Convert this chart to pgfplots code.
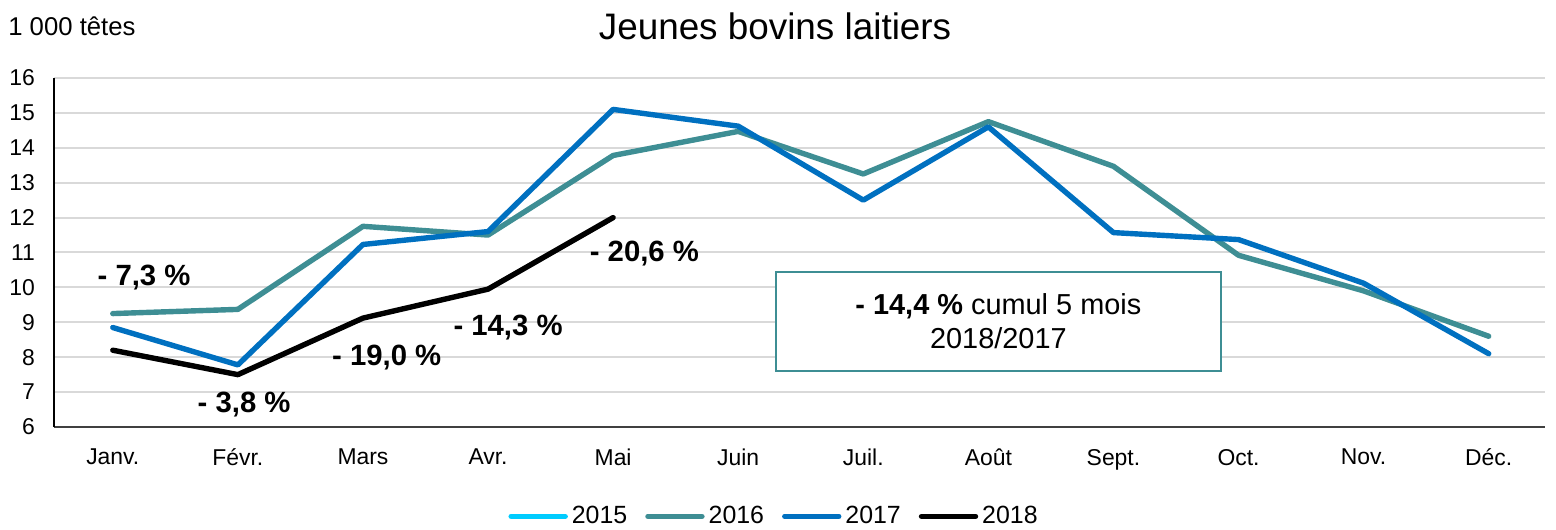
\documentclass[border=0pt]{standalone}
\usepackage{fontspec}
\setmainfont{Liberation Sans}
\usepackage{pgfplots}
\pgfplotsset{compat=1.18}
\usetikzlibrary{calc}
\definecolor{c15}{RGB}{0,204,255}
\definecolor{c16}{RGB}{62,142,148}
\definecolor{c17}{RGB}{0,112,192}
\definecolor{gridc}{RGB}{217,217,217}
\begin{document}
\begin{tikzpicture}
\begin{axis}[
 scale only axis, width=745.5bp, height=174.5bp,
 xmin=-0.47, xmax=11.45, ymin=6, ymax=16,
 xtick={0,...,11},
 xticklabels={Janv.,Févr.,Mars,Avr.,Mai,Juin,Juil.,Août,Sept.,Oct.,Nov.,Déc.},
 ytick={6,...,16},
 ymajorgrids, grid style={gridc, line width=1bp},
 axis x line*=bottom, axis y line*=left,
 x axis line style={draw=black!75, line width=1bp, -},
 y axis line style={draw=black, line width=0.8bp, -},
 major tick length=0pt,
 tick label style={font=\fontsize{11.5}{13}\selectfont},
 /pgf/number format/assume math mode=true,
 xticklabel style={yshift=-7.5bp},
 yticklabel style={xshift=-6bp},
 legend style={at={(0.4836,-0.256)}, anchor=center, draw=none, legend columns=4,
   font=\fontsize{12.5}{14}\selectfont, inner sep=1bp,
   /tikz/every even column/.append style={column sep=7bp}},
 legend image code/.code={\draw[#1, line width=2.7bp, line cap=round] (0bp,0bp) -- (27bp,0bp);},
 clip=false,
]
\coordinate (bl) at (rel axis cs:0,0);
\coordinate (tr) at (rel axis cs:1,1);
\addlegendimage{c15}
\addlegendentry{2015}
\addplot[c16, line width=2.7bp, line join=round, line cap=round] coordinates {
(0,9.25) (1,9.37) (2,11.75) (3,11.5) (4,13.78) (5,14.47) (6,13.25) (7,14.75) (8,13.47) (9,10.92) (10,9.9) (11,8.6)};
\addlegendentry{2016}
\addplot[c17, line width=2.7bp, line join=round, line cap=round] coordinates {
(0,8.85) (1,7.78) (2,11.23) (3,11.6) (4,15.1) (5,14.62) (6,12.5) (7,14.6) (8,11.57) (9,11.37) (10,10.12) (11,8.1)};
\addlegendentry{2017}
\addplot[black, line width=2.7bp, line join=round, line cap=round] coordinates {
(0,8.2) (1,7.5) (2,9.12) (3,9.95) (4,12.0)};
\addlegendentry{2018}
\begin{scope}[every node/.style={font=\bfseries\fontsize{14.7}{17}\selectfont}]
\node at (axis cs:0.25,10.28) {- 7,3 \%};
\node at (axis cs:1.05,6.65) {- 3,8 \%};
\node at (axis cs:2.19,7.98) {- 19,0 \%};
\node at (axis cs:3.16,8.86) {- 14,3 \%};
\node at (axis cs:4.25,10.97) {- 20,6 \%};
\end{scope}
\node[draw=c16, line width=0.8bp, fill=white, minimum width=222.5bp, minimum height=49.5bp,
  align=center, font=\fontsize{14.5}{17}\selectfont] at (axis cs:7.08,9.02)
  {\textbf{- 14,4 \%} cumul 5 mois\\2018/2017};
\node[font=\fontsize{18.5}{20}\selectfont] at (rel axis cs:0.4836,1.148) {Jeunes bovins laitiers};
\node[anchor=west, font=\fontsize{12.9}{14}\selectfont, inner sep=0pt] at (rel axis cs:-0.0309,1.148) {1 000 têtes};
\end{axis}
\pgfresetboundingbox
\path ($(bl)+(-27bp,-51.5bp)$) rectangle ($(tr)+(5.5bp,39bp)$);
\end{tikzpicture}
\end{document}
